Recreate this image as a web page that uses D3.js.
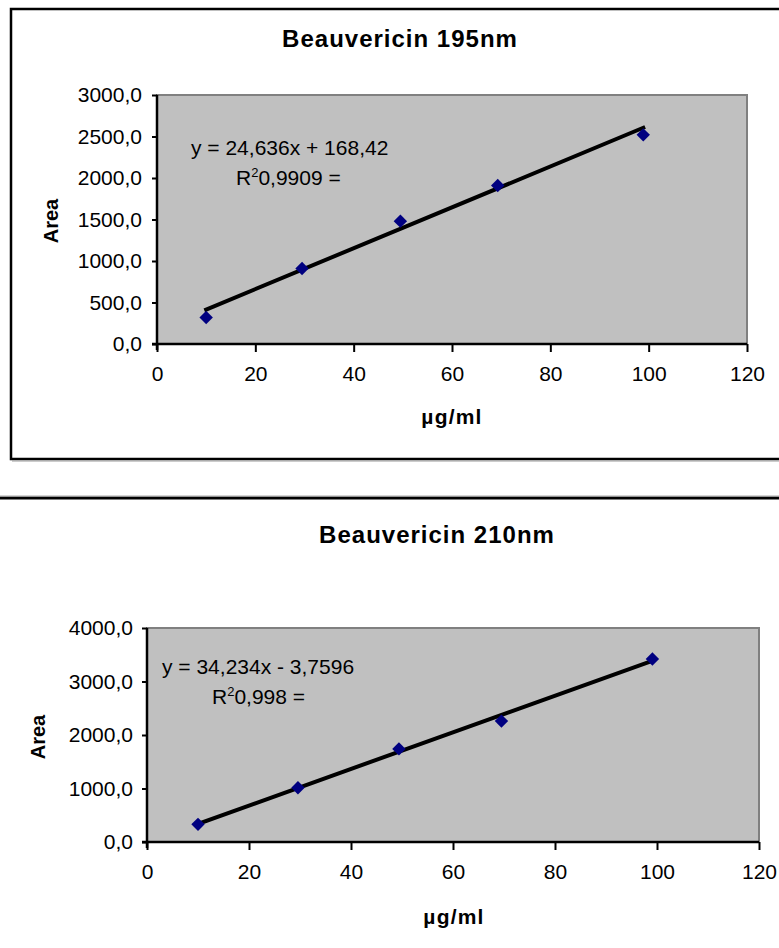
<!DOCTYPE html>
<html>
<head>
<meta charset="utf-8">
<script src="https://cdn.jsdelivr.net/npm/d3@7"></script>
<style>
  body { margin: 0; background: #fff; }
  svg { display: block; font-family: "Liberation Sans", Arial, sans-serif; }
</style>
</head>
<body>
<div id="vis"></div>
<script>
// two calibration curves, Beauvericin at 195nm and 210nm

const X_TICKS = [0, 20, 40, 60, 80, 100, 120];
const Y_TICKS_195 = [0, 500, 1000, 1500, 2000, 2500, 3000];
const Y_TICKS_210 = [0, 1000, 2000, 3000, 4000];

const conc195 = [10, 29.5, 49.5, 69.3, 98.9];
const area195 = [320, 910, 1480, 1910, 2520];
const conc210 = [10, 29.6, 49.4, 69.5, 99.1];
const area210 = [330, 1015, 1740, 2260, 3420];

// trendline equations shown on the charts
const slope195 = 24.636, icpt195 = 168.42, r2_195 = "0,9909";
const slope210 = 34.234, icpt210 = -3.7596, r2_210 = "0,998";

const WIDTH = 779, HEIGHT = 948;

const svg = d3.select("#vis")
  .append("svg")
    .attr("width", WIDTH)
    .attr("height", HEIGHT);

// outer frame of the first chart (right side runs off the page)
svg.append("rect")
    .attr("x", 11).attr("y", 9)
    .attr("width", 820).attr("height", 450)
    .attr("fill", "none")
    .attr("stroke", "#000")
    .attr("stroke-width", 2.5);
svg.append("line")
    .attr("x1", 12).attr("x2", WIDTH)
    .attr("y1", 461).attr("y2", 461)
    .attr("stroke", "#999").attr("stroke-width", 1);

// top border of the second chart
svg.append("line")
    .attr("x1", 0).attr("x2", WIDTH)
    .attr("y1", 498).attr("y2", 498)
    .attr("stroke", "#000")
    .attr("stroke-width", 3);
svg.append("line")
    .attr("x1", 0).attr("x2", WIDTH)
    .attr("y1", 496).attr("y2", 496)
    .attr("stroke", "#aaa").attr("stroke-width", 1);

const fmtY = (d) => d3.format(".1f")(d).replace(".", ",");

function drawChart(c) {
  const X = d3.scaleLinear().domain([0, 120]).range([c.left, c.right]);
  const Y = d3.scaleLinear().domain([0, c.yMax]).range([c.bottom, c.top]);

  // plot area
  svg.append("rect")
      .attr("x", c.left).attr("y", c.top)
      .attr("width", c.right - c.left)
      .attr("height", c.bottom - c.top)
      .attr("fill", "#c0c0c0")
      .attr("stroke", "#808080")
      .attr("stroke-width", 2);

  // axes
  const yAxis = svg.append("g")
      .attr("transform", "translate(" + c.left + ",0)")
      .call(d3.axisLeft(Y).tickValues(c.yTicks).tickFormat(fmtY)
              .tickSize(5).tickPadding(c.yPad));
  const xAxis = svg.append("g")
      .attr("transform", "translate(0," + c.bottom + ")")
      .call(d3.axisBottom(X).tickValues(X_TICKS).tickSize(8).tickPadding(14));

  [xAxis, yAxis].forEach((a) => {
    a.select(".domain").attr("stroke", "#000").attr("stroke-width", 2.5);
    a.selectAll(".tick line").attr("stroke", "#000").attr("stroke-width", 2);
    a.selectAll("text")
      .attr("font-size", "21px")
      .attr("fill", "#000")
      .attr("font-family", "Liberation Sans, Arial, sans-serif");
  });
  yAxis.select(".domain").attr("d", "M0," + c.top + "V" + (c.bottom + 6));
  xAxis.select(".domain").attr("d", "M" + (c.left - 5) + ",0H" + c.right);

  // trendline
  const x0 = d3.min(c.xs), x1 = d3.max(c.xs);
  svg.append("line")
      .attr("x1", X(x0)).attr("y1", Y(c.slope * x0 + c.icpt))
      .attr("x2", X(x1)).attr("y2", Y(c.slope * x1 + c.icpt))
      .attr("stroke", "#000")
      .attr("stroke-width", 4)
      .attr("stroke-linecap", "square");

  // diamond markers
  svg.selectAll(null)
    .data(d3.zip(c.xs, c.ys))
    .enter()
    .append("path")
      .attr("d", d3.symbol(d3.symbolSquare, 90))
      .attr("transform", (d) => "translate(" + X(d[0]) + "," + Y(d[1]) + ") rotate(45)")
      .attr("fill", "#000080");

  // title
  svg.append("text")
      .attr("x", c.titleX).attr("y", c.titleY)
      .attr("text-anchor", "middle")
      .attr("font-size", "24px")
      .attr("font-weight", "bold")
      .attr("letter-spacing", "1px")
      .text(c.title);

  // axis titles
  svg.append("text")
      .attr("transform", "translate(" + c.areaX + "," + c.areaY + ") rotate(-90)")
      .attr("text-anchor", "middle")
      .attr("font-size", "20px")
      .attr("font-weight", "bold")
      .text("Area");
  svg.append("text")
      .attr("x", c.unitX).attr("y", c.unitY)
      .attr("text-anchor", "middle")
      .attr("font-size", "21px")
      .attr("font-weight", "bold")
      .attr("letter-spacing", "1.2px")
      .text("µg/ml");

  // equation text
  svg.append("text")
      .attr("x", c.eqX).attr("y", c.eqY)
      .attr("font-size", "21px")
      .text(c.eq);
  const r = svg.append("text")
      .attr("x", c.rX).attr("y", c.eqY + 30)
      .attr("font-size", "21px");
  r.append("tspan").text("R");
  r.append("tspan").attr("font-size", "13px").attr("dy", -8).text("2");
  r.append("tspan").attr("dy", 8).text(c.r2 + " =");
}

drawChart({
  title: "Beauvericin 195nm", titleX: 400, titleY: 47,
  left: 157, right: 747, top: 95, bottom: 344,
  yMax: 3000, yTicks: Y_TICKS_195, yPad: 10,
  xs: conc195, ys: area195, slope: slope195, icpt: icpt195,
  eq: "y = 24,636x + 168,42", eqX: 191, eqY: 155,
  rX: 236, r2: r2_195,
  areaX: 58, areaY: 221, unitX: 452, unitY: 424
});

drawChart({
  title: "Beauvericin 210nm", titleX: 437, titleY: 543,
  left: 147, right: 759, top: 628, bottom: 842,
  yMax: 4000, yTicks: Y_TICKS_210, yPad: 9,
  xs: conc210, ys: area210, slope: slope210, icpt: icpt210,
  eq: "y = 34,234x - 3,7596", eqX: 162, eqY: 674,
  rX: 212, r2: r2_210,
  areaX: 45, areaY: 737, unitX: 454, unitY: 924
});
</script>
</body>
</html>
